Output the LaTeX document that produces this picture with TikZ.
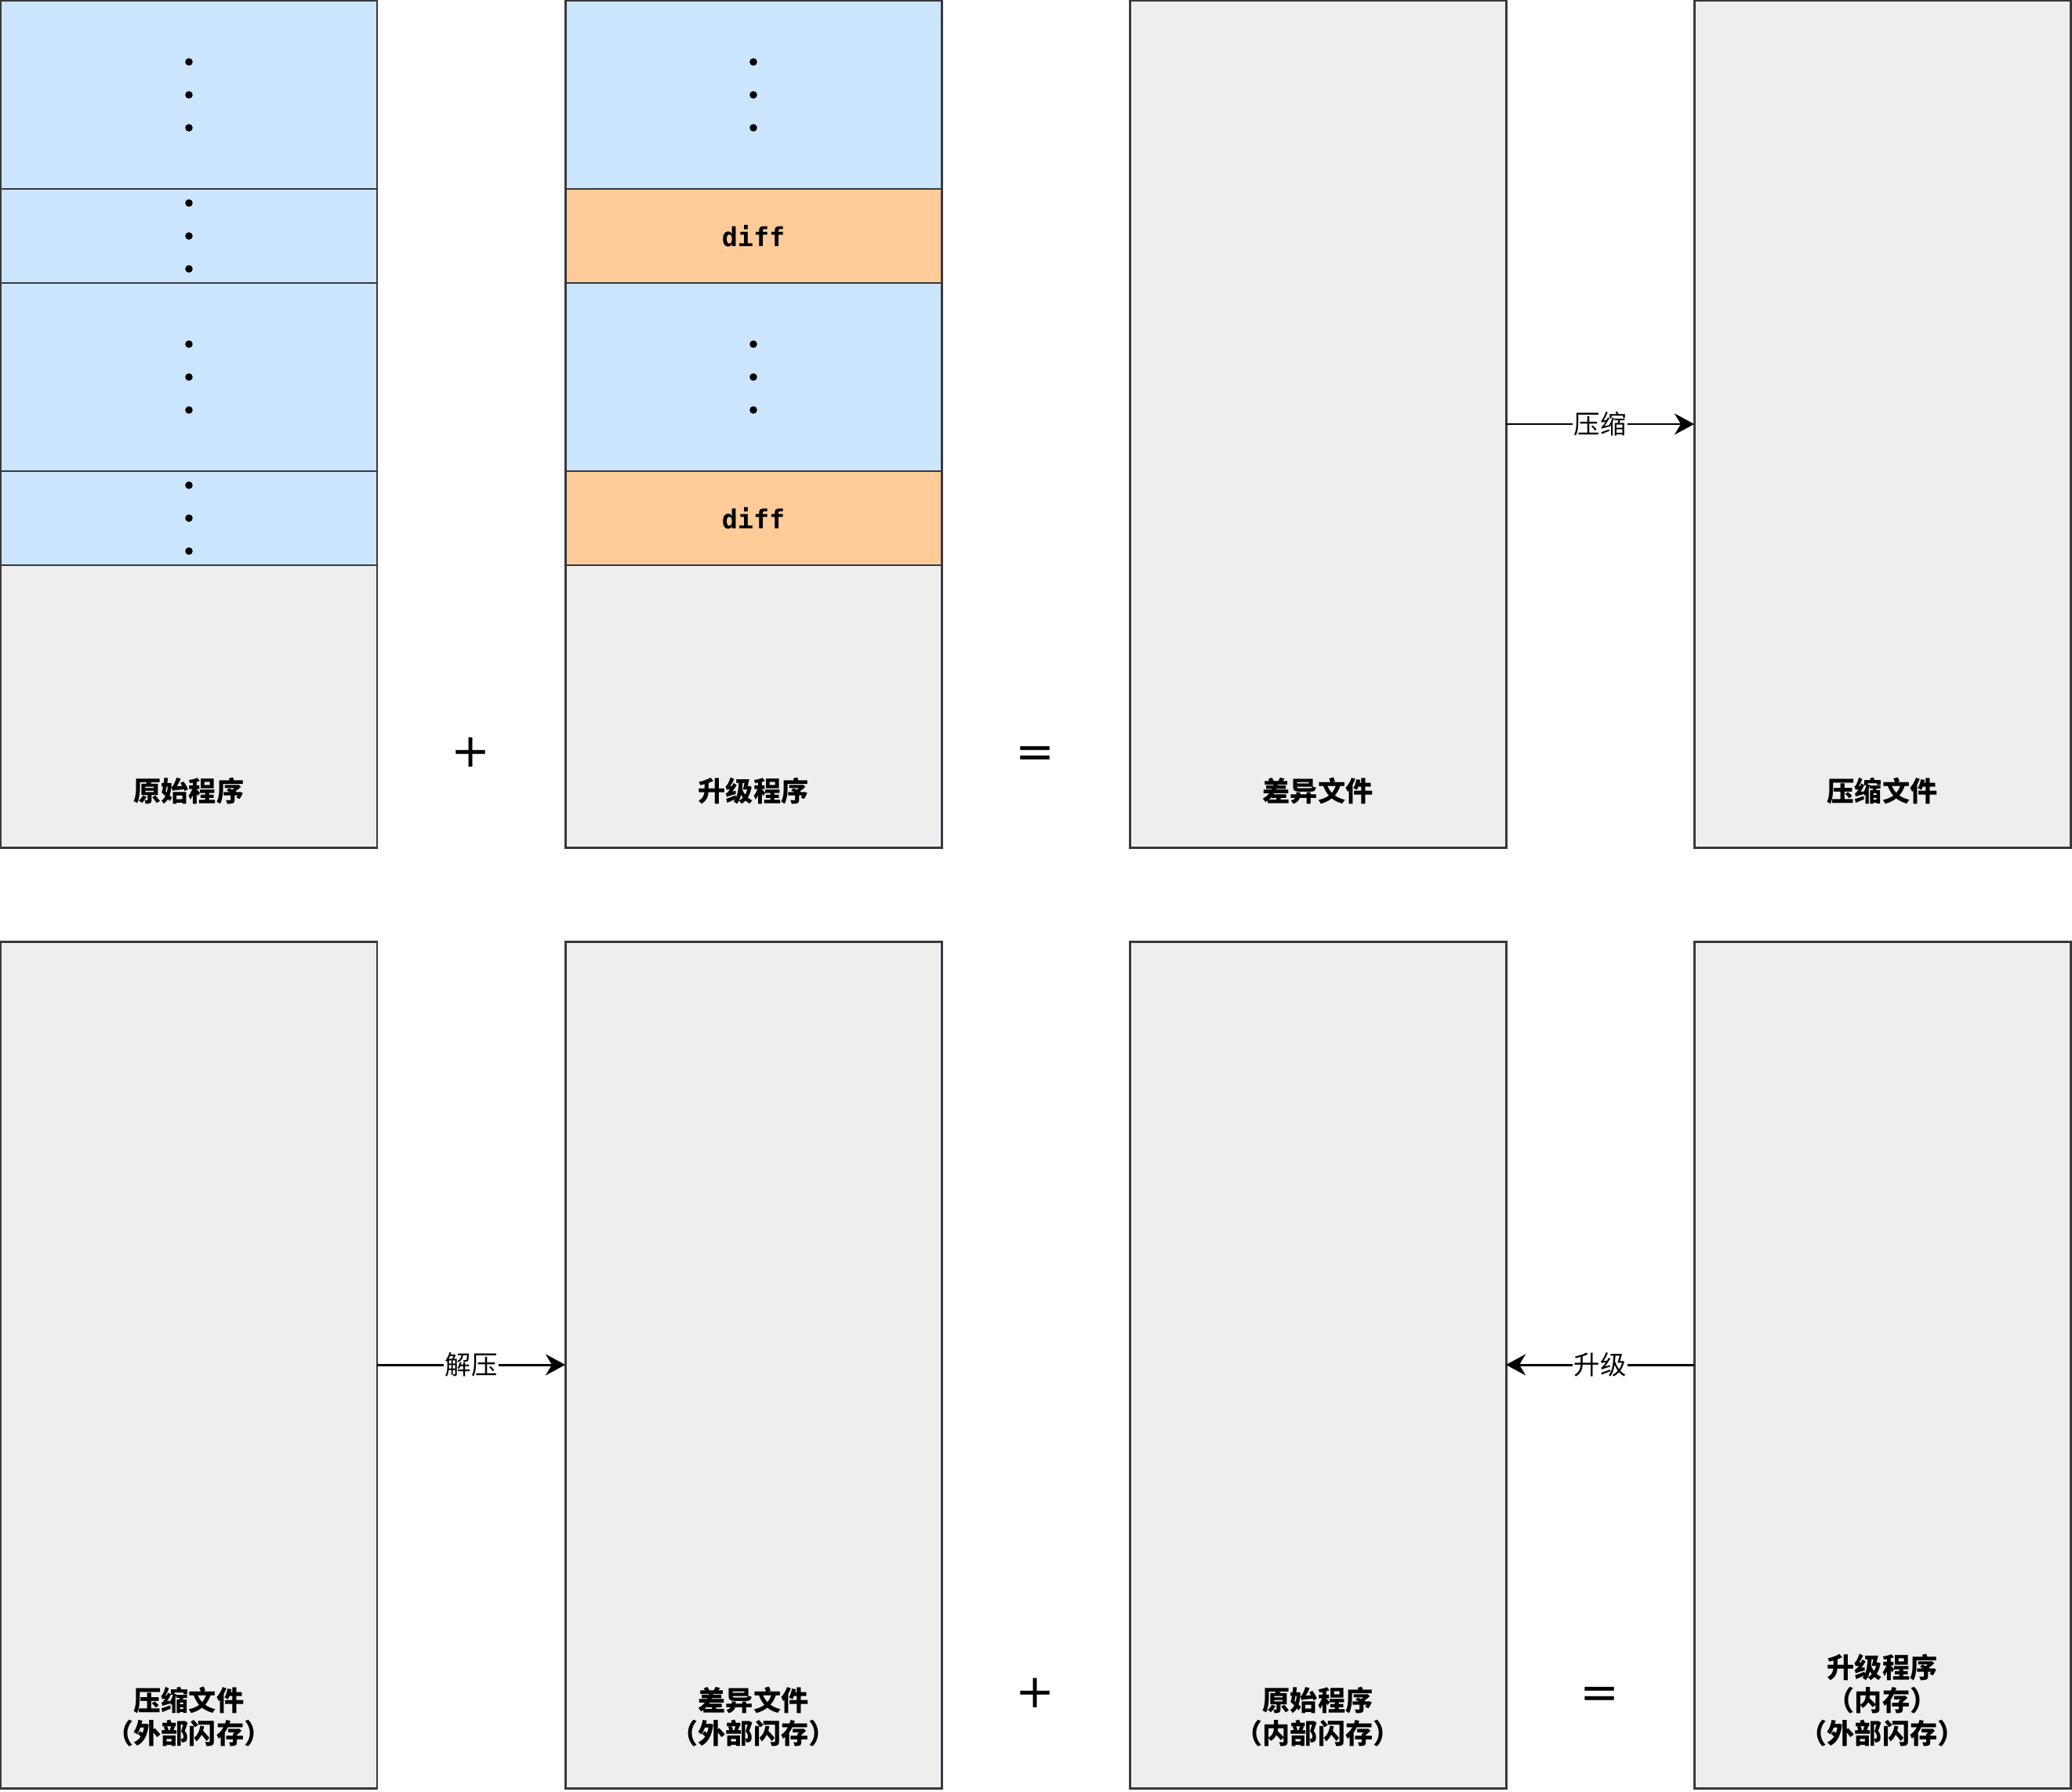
\documentclass[tikz,border=0pt]{standalone}
\usepackage{fontspec}
\usepackage{tikz}
\usetikzlibrary{positioning,arrows.meta}
\newfontfamily\cjk{Noto Sans CJK SC}
\newfontfamily\mono{DejaVu Sans Mono}
\newfontfamily\symfont{DejaVu Sans}
\definecolor{blockblue}{HTML}{CCE5FF}
\definecolor{difforange}{HTML}{FFCC99}
\definecolor{filegrey}{HTML}{EEEEEE}
\definecolor{edgegrey}{HTML}{36393D}

\begin{document}
\begin{tikzpicture}[
  seg/.style={rectangle, draw=edgegrey, line width=0.85pt, minimum width=4.8cm, inner sep=0pt, outer sep=0pt},
  blueseg/.style={seg, fill=blockblue},
  diffseg/.style={seg, fill=difforange, font=\mono\bfseries\fontsize{9.5pt}{11pt}\selectfont},
  greyseg/.style={seg, fill=filegrey},
  boxlabel/.style={anchor=south, inner sep=0pt, align=center, font=\cjk\bfseries\fontsize{10pt}{12pt}\selectfont},
  opsign/.style={inner sep=0pt, font=\symfont\fontsize{17pt}{20pt}\selectfont},
  flow/.style={-{Stealth[length=0.25cm,width=0.27cm,inset=0.08cm]}, line width=0.85pt},
  flowlabel/.style={fill=white, inner sep=0.5pt, font=\cjk\fontsize{9.5pt}{11pt}\selectfont}
]
\useasboundingbox (0,0) rectangle (26.43,-22.86);

% top row: original program
\node[blueseg, minimum height=2.4cm, anchor=north west] (O1a) at (0.01,-0.01) {};
\node[blueseg, minimum height=1.2cm, below=0cm of O1a] (O1b) {};
\node[blueseg, minimum height=2.4cm, below=0cm of O1b] (O1c) {};
\node[blueseg, minimum height=1.2cm, below=0cm of O1c] (O1d) {};
\node[greyseg, minimum height=3.6cm, below=0cm of O1d] (O1e) {};
\node[boxlabel] (L1) at ([yshift=0.54cm]O1e.south) {原始程序};

% top row: upgrade program
\node[blueseg, minimum height=2.4cm, anchor=north west] (U1a) at (7.21,-0.01) {};
\node[diffseg, minimum height=1.2cm, below=0cm of U1a] (U1b) {diff};
\node[blueseg, minimum height=2.4cm, below=0cm of U1b] (U1c) {};
\node[diffseg, minimum height=1.2cm, below=0cm of U1c] (U1d) {diff};
\node[greyseg, minimum height=3.6cm, below=0cm of U1d] (U1e) {};
\node[boxlabel] (L2) at ([yshift=0.54cm]U1e.south) {升级程序};

\foreach \seg in {O1a,O1b,O1c,O1d,U1a,U1c}
  \foreach \k in {-1,0,1}
    \fill ([yshift=\k*0.42cm]\seg.center) circle (0.048);

% top row: diff file and compressed file
\node[greyseg, minimum height=10.8cm, anchor=north west] (D1) at (14.41,-0.01) {};
\node[boxlabel] (L3) at ([yshift=0.54cm]D1.south) {差异文件};
\node[greyseg, minimum height=10.8cm, anchor=north west] (C1) at (21.61,-0.01) {};
\node[boxlabel] (L4) at ([yshift=0.54cm]C1.south) {压缩文件};

\node[opsign] (P1) at (6.01,-9.60) {+};
\node[opsign] (E1) at (13.21,-9.66) {=};
\draw[flow] (D1.east) -- node[flowlabel] {压缩} (C1.west);

% bottom row
\node[greyseg, minimum height=10.8cm, anchor=north west] (C2) at (0.01,-12.01) {};
\node[boxlabel] (L5) at ([yshift=0.52cm]C2.south) {压缩文件\\（外部闪存）};
\node[greyseg, minimum height=10.8cm, anchor=north west] (D2) at (7.21,-12.01) {};
\node[boxlabel] (L6) at ([yshift=0.52cm]D2.south) {差异文件\\（外部闪存）};
\node[greyseg, minimum height=10.8cm, anchor=north west] (O2) at (14.41,-12.01) {};
\node[boxlabel] (L7) at ([yshift=0.52cm]O2.south) {原始程序\\（内部闪存）};
\node[greyseg, minimum height=10.8cm, anchor=north west] (U2) at (21.61,-12.01) {};
\node[boxlabel] (L8) at ([yshift=0.52cm]U2.south) {升级程序\\（内存）\\（外部闪存）};

\node[opsign] (P2) at (13.21,-21.60) {+};
\node[opsign] (E2) at (20.41,-21.66) {=};
\draw[flow] (C2.east) -- node[flowlabel] {解压} (D2.west);
\draw[flow] (U2.west) -- node[flowlabel] {升级} (O2.east);
\end{tikzpicture}
\end{document}
